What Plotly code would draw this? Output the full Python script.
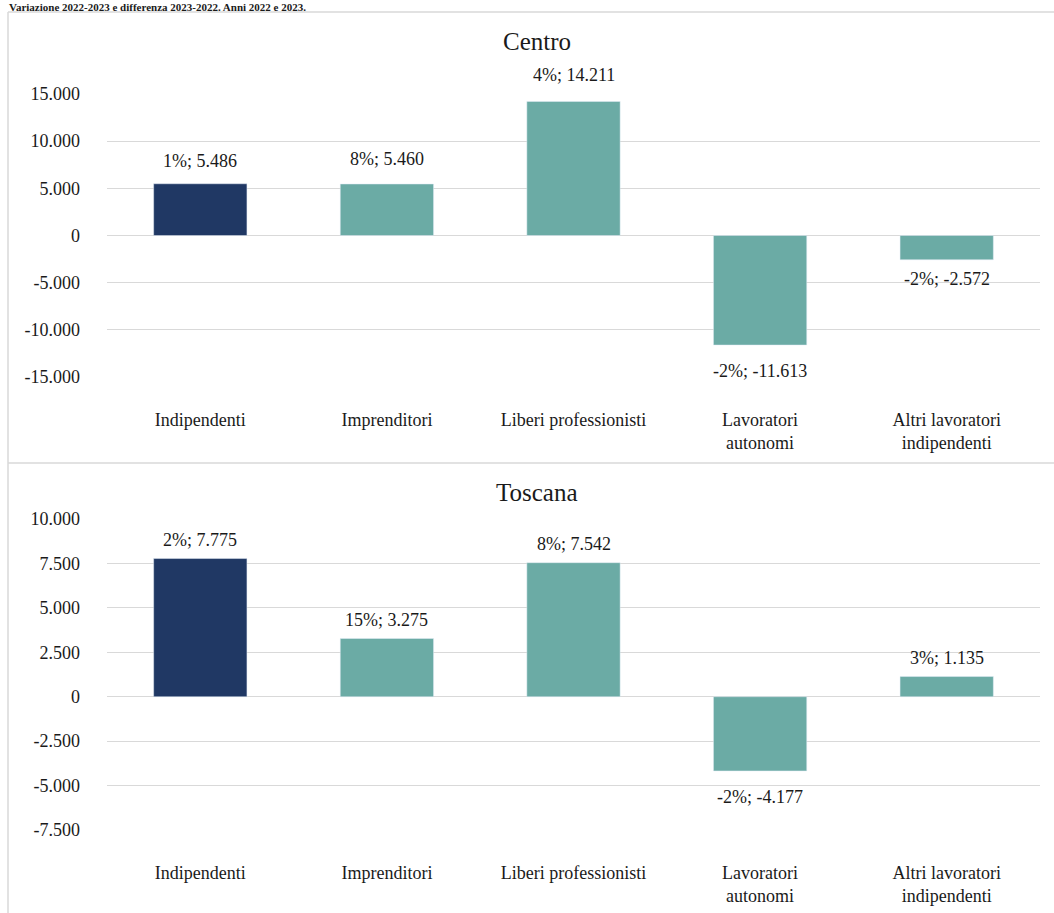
import plotly.graph_objects as go

categories = ["Indipendenti", "Imprenditori", "Liberi professionisti",
              "Lavoratori<br>autonomi", "Altri lavoratori<br>indipendenti"]

centro_values = [5486, 5460, 14211, -11613, -2572]
centro_pct = [1, 8, 4, -2, -2]

toscana_values = [7775, 3275, 7542, -4177, 1135]
toscana_pct = [2, 15, 8, -2, 3]

centro_ticks = [15000, 10000, 5000, 0, -5000, -10000, -15000]
centro_ticktext = ["15.000", "10.000", "5.000", "0", "-5.000", "-10.000", "-15.000"]
toscana_ticks = [10000, 7500, 5000, 2500, 0, -2500, -5000, -7500]
toscana_ticktext = ["10.000", "7.500", "5.000", "2.500", "0", "-2.500", "-5.000", "-7.500"]

title_text = "Variazione 2022-2023 e differenza 2023-2022. Anni 2022 e 2023."

# label distance (px) from bar end, per panel (style only)
CENTRO_LABEL_GAP = [23, 25, 26, 26, 19]
TOSCANA_LABEL_GAP = [19, 19, 19, 26, 19]

NAVY = "#203864"
TEAL = "#6BABA5"
GRID = "#D9D9D9"
TXT = "#1a1a1a"
FONT = "Liberation Serif"

W, H = 1054, 913


def px_x(p):
    return p / W


def px_y(p):
    return 1 - p / H


def fmt(v):
    return f"{v:,}".replace(",", ".")


colors = [NAVY] + [TEAL] * (len(categories) - 1)

fig = go.Figure()
fig.add_trace(go.Bar(x=categories, y=centro_values, marker_color=colors,
                     width=0.5, xaxis="x", yaxis="y", hoverinfo="skip"))
fig.add_trace(go.Bar(x=categories, y=toscana_values, marker_color=colors,
                     width=0.5, xaxis="x2", yaxis="y2", hoverinfo="skip"))

annotations = []
for xref, yref, vals, pcts, gaps in [("x", "y", centro_values, centro_pct, CENTRO_LABEL_GAP),
                                     ("x2", "y2", toscana_values, toscana_pct, TOSCANA_LABEL_GAP)]:
    for c, v, p, g in zip(categories, vals, pcts, gaps):
        annotations.append(dict(
            x=c, y=v, xref=xref, yref=yref, text=f"{p}%; {fmt(v)}",
            showarrow=False, yanchor="middle", yshift=g if v >= 0 else -g,
            font=dict(family=FONT, size=18, color=TXT)))

annotations.append(dict(x=px_x(537), y=px_y(42), xref="paper", yref="paper",
                        text="Centro", showarrow=False, xanchor="center", yanchor="middle",
                        font=dict(family=FONT, size=25, color=TXT)))
annotations.append(dict(x=px_x(537), y=px_y(492), xref="paper", yref="paper",
                        text="Toscana", showarrow=False, xanchor="center", yanchor="middle",
                        font=dict(family=FONT, size=25, color=TXT)))
annotations.append(dict(x=px_x(8), y=1, xref="paper", yref="paper",
                        text="<b>" + title_text + "</b>", showarrow=False,
                        xanchor="left", yanchor="top", borderpad=0,
                        font=dict(family=FONT, size=11, color=TXT)))

shapes = [
    dict(type="line", xref="paper", yref="paper", x0=px_x(8), x1=1,
         y0=px_y(12), y1=px_y(12), line=dict(color=GRID, width=1.5)),
    dict(type="line", xref="paper", yref="paper", x0=px_x(8), x1=1,
         y0=px_y(463), y1=px_y(463), line=dict(color=GRID, width=1.5)),
    dict(type="line", xref="paper", yref="paper", x0=px_x(8), x1=px_x(8),
         y0=px_y(12), y1=0, line=dict(color=GRID, width=1.5)),
]

xaxis_common = dict(type="category", showgrid=False, zeroline=False, showline=False,
                    ticks="", tickfont=dict(family=FONT, size=18, color=TXT),
                    ticklabelstandoff=30, domain=[px_x(107), px_x(1040)], fixedrange=True,
                    automargin=False)
yaxis_common = dict(showgrid=True, gridcolor=GRID, gridwidth=1, zeroline=True,
                    zerolinecolor=GRID, zerolinewidth=1, showline=False, ticks="",
                    tickfont=dict(family=FONT, size=18, color=TXT),
                    ticklabelstandoff=26, fixedrange=True, automargin=False)

fig.update_layout(
    width=W, height=H, margin=dict(l=0, r=0, t=0, b=0, pad=0, autoexpand=False),
    paper_bgcolor="white", plot_bgcolor="white", showlegend=False,
    xaxis=dict(**xaxis_common, anchor="y"),
    xaxis2=dict(**xaxis_common, anchor="y2"),
    yaxis=dict(**yaxis_common, anchor="x", domain=[px_y(377), px_y(94)],
               range=[-15000, 15000], tickvals=centro_ticks, ticktext=centro_ticktext),
    yaxis2=dict(**yaxis_common, anchor="x2", domain=[px_y(830), px_y(519)],
                range=[-7500, 10000], tickvals=toscana_ticks, ticktext=toscana_ticktext),
    annotations=annotations, shapes=shapes,
)

fig.write_html(
    "out.html",
    config={"displayModeBar": False},
    post_script=("document.documentElement.style.margin='0';"
                 "document.body.style.margin='0';"
                 "document.body.style.padding='0';"
                 "document.documentElement.style.overflow='hidden';"
                 "document.body.style.overflow='hidden';"),
)
